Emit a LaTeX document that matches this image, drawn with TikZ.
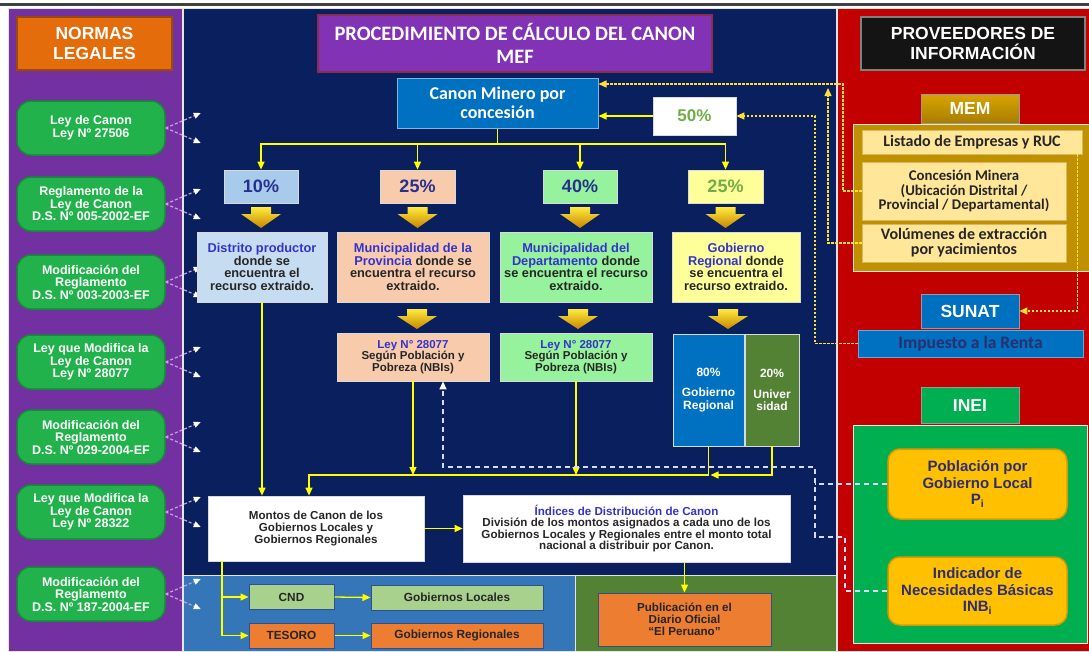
\documentclass[tikz,border=0pt]{standalone}
\usepackage{fontspec}
\setmainfont{Liberation Sans}
\newfontfamily\calib{Carlito}
\usetikzlibrary{arrows.meta}

\definecolor{purpP}{HTML}{7330A0}
\definecolor{navyP}{HTML}{0A1F5E}
\definecolor{redP}{HTML}{C30000}
\definecolor{blueP}{HTML}{3476B8}
\definecolor{greenP}{HTML}{548235}
\definecolor{goldP}{HTML}{BF9000}
\definecolor{ineiP}{HTML}{00B050}
\definecolor{orangeH}{HTML}{E46C0A}
\definecolor{orangeD}{HTML}{9C4A08}
\definecolor{legalG}{HTML}{22B24C}
\definecolor{legalD}{HTML}{168A38}
\definecolor{titleP}{HTML}{8232B4}
\definecolor{titleD}{HTML}{8A2E4E}
\definecolor{canonB}{HTML}{0070C0}
\definecolor{pctBlue}{HTML}{A9CBEB}
\definecolor{lblue}{HTML}{C6DCF0}
\definecolor{peach}{HTML}{F8CBAD}
\definecolor{lgreen}{HTML}{96F29C}
\definecolor{lyellow}{HTML}{FFFF99}
\definecolor{blueT}{HTML}{3333CC}
\definecolor{pctT}{HTML}{26308F}
\definecolor{darkT}{HTML}{262626}
\definecolor{greenT}{HTML}{70AD47}
\definecolor{cream}{HTML}{FFE699}
\definecolor{creamD}{HTML}{D9B860}
\definecolor{popY}{HTML}{FFC000}
\definecolor{popD}{HTML}{D99A00}
\definecolor{popT}{HTML}{2E2E6E}
\definecolor{tesoroO}{HTML}{ED7D31}
\definecolor{cndG}{HTML}{A9D18E}
\definecolor{smallD}{HTML}{2F4F8F}
\definecolor{ylw}{HTML}{FFFF00}
\definecolor{ydot}{HTML}{FFE033}
\definecolor{ldashC}{HTML}{C8A2E0}
\definecolor{blackB}{HTML}{141414}
\definecolor{memL}{HTML}{D9A300}
\definecolor{memD}{HTML}{A87E00}
\definecolor{chevT}{HTML}{FFEA3D}
\definecolor{chevB}{HTML}{C88600}

\tikzset{
  panel/.style={draw=white!80!gray, line width=0.8pt},
  headbox/.style={minimum width=155pt, minimum height=53pt, inner sep=2pt, line width=1.2pt,
    align=center, text=white, font=\fontsize{17.5}{19.5}\selectfont\bfseries},
  legalbox/.style={rounded corners=14pt, fill=legalG, draw=legalD, line width=1.5pt,
    minimum width=148pt, minimum height=54pt, inner sep=2pt, align=center, text=white,
    font=\fontsize{12.5}{12.5}\selectfont\bfseries},
  ldash/.style={draw=ldashC, dash pattern=on 3pt off 2pt, line width=1.2pt,
    -{Triangle[length=7pt,width=6pt,color=white]}},
  titlebox/.style={fill=titleP, draw=titleD, line width=1.5pt, minimum width=394pt,
    minimum height=57pt, inner sep=2pt, align=center, text=white,
    font=\calib\fontsize{20.5}{23}\selectfont\bfseries},
  pctbox/.style={minimum height=33pt, inner sep=2pt, draw=white!70!gray, line width=0.8pt,
    font=\fontsize{18}{20}\selectfont\bfseries},
  descbox/.style={minimum height=70pt, inner sep=2pt, align=center, draw=white!70!gray,
    line width=0.8pt, text=darkT, font=\fontsize{12.8}{12.8}\selectfont\bfseries},
  leybox/.style={minimum height=48pt, minimum width=152pt, inner sep=2pt, align=center,
    draw=white!70!gray, line width=0.8pt, text=darkT,
    font=\fontsize{11.5}{11.8}\selectfont\bfseries},
  splitbox/.style={minimum height=112pt, inner sep=2pt, align=center, text=white,
    draw=white!70!gray, line width=0.8pt, font=\fontsize{12}{12.5}\selectfont\bfseries},
  whitebox/.style={fill=white, draw=white!70!gray, line width=0.8pt, inner sep=2pt,
    align=center, text=darkT, font=\fontsize{11.6}{11.6}\selectfont\bfseries},
  smallbox/.style={minimum height=25pt, inner sep=2pt, draw=smallD, line width=1pt,
    text=darkT, font=\fontsize{11.8}{12}\selectfont\bfseries},
  subbox/.style={minimum width=98pt, minimum height=29pt, inner sep=2pt, text=white,
    draw=black!40, line width=0.8pt, font=\fontsize{17.5}{18}\selectfont\bfseries},
  creambox/.style={fill=cream, draw=creamD, line width=0.8pt, inner sep=2pt, align=center,
    text=darkT, font=\calib\fontsize{14.8}{14.5}\selectfont\bfseries},
  popbox/.style={rounded corners=12pt, fill=popY, draw=popD, line width=1.5pt,
    minimum width=179pt, minimum height=70pt, inner sep=2pt, align=center, text=popT,
    font=\fontsize{15}{16.7}\selectfont\bfseries},
  chev/.style={top color=chevT, bottom color=chevB},
  yarrow/.style={draw=ylw, line width=1.3pt, -{Triangle[length=8pt,width=7pt]}},
  ydots/.style={draw=ydot, line width=1.4pt, dash pattern=on 2.5pt off 1.5pt,
    -{Triangle[length=8pt,width=7pt]}},
  wdash/.style={draw=white!85!blue, line width=1.4pt, dash pattern=on 5pt off 4pt}
}

\begin{document}
\begin{tikzpicture}[x=1pt,y=-1pt]
\useasboundingbox (0,0) rectangle (1089,651);
\fill[white] (0,0) rectangle (1089,651);
\fill[black!75] (0,2.5) rectangle (1089,6);

\draw[panel, fill=purpP] (8,8) rectangle (182,651);
\draw[panel, fill=navyP] (183,8) rectangle (836,575);
\draw[panel, fill=blueP] (183,575) rectangle (575,651);
\draw[panel, fill=greenP] (575,575) rectangle (836,651);
\draw[panel, fill=redP] (837,8) rectangle (1089,651);
\draw[panel, fill=goldP] (853,124) rectangle (1089,271);
\draw[panel, fill=ineiP] (853,425) rectangle (1087,643);

\node[headbox, fill=orangeH, draw=orangeD] (normas) at (94.5,43.5) {NORMAS\\LEGALES};
\node[legalbox] (ley1) at (91,128) {Ley de Canon\\Ley Nº 27506};
\node[legalbox] (ley2) at (91,204) {Reglamento de la\\Ley de Canon\\D.S. Nº 005-2002-EF};
\node[legalbox] (ley3) at (91,282) {Modificación del\\Reglamento\\D.S. Nº 003-2003-EF};
\node[legalbox] (ley4) at (91,362) {Ley que Modifica la\\Ley de Canon\\Ley Nº 28077};
\node[legalbox] (ley5) at (91,437) {Modificación del\\Reglamento\\D.S. Nº 029-2004-EF};
\node[legalbox] (ley6) at (91,512) {Ley que Modifica la\\Ley de Canon\\Ley Nº 28322};
\node[legalbox] (ley7) at (91,594) {Modificación del\\Reglamento\\D.S. Nº 187-2004-EF};
\foreach \i in {1,...,7} {
  \draw[ldash] (ley\i.east) -- ++(35,-15);
  \draw[ldash] (ley\i.east) -- ++(35,15);
}

\node[titlebox] (titulo) at (515,43.5) {PROCEDIMIENTO DE CÁLCULO DEL CANON\\MEF};
\node[fill=canonB, draw=canonB!50!white, line width=1pt, minimum width=201pt, minimum height=50pt,
  inner sep=2pt, align=center, text=white, font=\calib\fontsize{18}{19}\selectfont\bfseries]
  (canon) at (497.5,103) {Canon Minero por\\concesión};
\node[pctbox, fill=white, text=greenT, minimum width=83pt, minimum height=38pt,
  font=\fontsize{17}{19}\selectfont\bfseries] (fifty) at (694.5,116) {50\%};

\node[pctbox, fill=pctBlue, text=pctT, minimum width=74pt] (p10) at (261,186.5) {10\%};
\node[pctbox, fill=peach, text=pctT, minimum width=75pt] (p25a) at (417.5,186.5) {25\%};
\node[pctbox, fill=lgreen, text=pctT, minimum width=74pt] (p40) at (580,186.5) {40\%};
\node[pctbox, fill=lyellow, text=greenT, minimum width=75pt] (p25b) at (725.5,186.5) {25\%};

\foreach \x in {261,417.5,580,725.5}
  \shade[chev] ({\x-10},207) -- ({\x+10},207) -- ({\x+10},214) -- ({\x+20},214)
    -- (\x,228) -- ({\x-20},214) -- ({\x-10},214) -- cycle;

\node[descbox, fill=lblue, minimum width=130pt] (d1) at (262,267)
  {{\color{blueT}Distrito productor}\\donde se\\encuentra el\\recurso extraido.};
\node[descbox, fill=peach, minimum width=152pt] (d2) at (413,267)
  {{\color{blueT}Municipalidad de la}\\{\color{blueT}Provincia} donde se\\encuentra el recurso\\extraido.};
\node[descbox, fill=lgreen, minimum width=152pt] (d3) at (576,267)
  {{\color{blueT}Municipalidad del}\\{\color{blueT}Departamento} donde\\se encuentra el recurso\\extraido.};
\node[descbox, fill=lyellow, minimum width=128pt] (d4) at (736,267)
  {{\color{blueT}Gobierno}\\{\color{blueT}Regional} donde\\se encuentra el\\recurso extraido.};

\foreach \x in {417,578,728}
  \shade[chev] ({\x-10},309) -- ({\x+10},309) -- ({\x+10},316) -- ({\x+20},316)
    -- (\x,329) -- ({\x-20},316) -- ({\x-10},316) -- cycle;

\node[leybox, fill=peach] (l2) at (413,357) {{\color{blueT}Ley N° 28077}\\Según Población y\\Pobreza (NBIs)};
\node[leybox, fill=lgreen] (l3) at (576,357) {{\color{blueT}Ley N° 28077}\\Según Población y\\Pobreza (NBIs)};
\node[splitbox, fill=canonB, minimum width=71pt] (gr80) at (708.5,390) {80\%\\[8pt]Gobierno\\Regional};
\node[splitbox, fill=greenP, minimum width=54pt] (un20) at (772,390) {20\%\\[8pt]Univer\\sidad};

\node[whitebox, minimum width=216pt, minimum height=65pt] (montos) at (316,528.5)
  {Montos de Canon de los\\Gobiernos Locales y\\Gobiernos Regionales};
\node[whitebox, minimum width=327pt, minimum height=67pt] (indices) at (626.5,528.5)
  {{\color{blueT}Índices de Distribución de Canon}\\División de los montos asignados a cada uno de los\\Gobiernos Locales y Regionales entre el monto total\\nacional a distribuir por Canon.};

\node[smallbox, fill=cndG, minimum width=85pt] (cnd) at (291.5,597) {CND};
\node[smallbox, fill=tesoroO, minimum width=85pt] (tesoro) at (291.5,635.5) {TESORO};
\node[smallbox, fill=cndG, minimum width=172pt] (glocal) at (457,597.5) {Gobiernos Locales};
\node[smallbox, fill=tesoroO, minimum width=172pt] (gregion) at (457,635.5) {Gobiernos Regionales};
\node[smallbox, fill=tesoroO, minimum width=173pt, minimum height=53pt, align=center,
  font=\fontsize{11.6}{12}\selectfont\bfseries] (publica) at (684.5,619.5)
  {Publicación en el\\Diario Oficial\\“El Peruano”};

\node[headbox, fill=blackB, draw=gray, minimum width=224pt] (proveed) at (973,43.5) {PROVEEDORES DE\\INFORMACIÓN};
\node[subbox, top color=memL, bottom color=memD] (mem) at (970,108.5) {MEM};
\node[creambox, minimum width=220pt, minimum height=24pt, font=\calib\fontsize{16}{16}\selectfont\bfseries]
  (listado) at (972,142) {Listado de Empresas y RUC};
\node[creambox, minimum width=204pt, minimum height=58pt] (concesion) at (964,191)
  {Concesión Minera\\(Ubicación Distrital /\\Provincial / Departamental)};
\node[creambox, minimum width=204pt, minimum height=38pt, font=\calib\fontsize{16}{15}\selectfont\bfseries]
  (volumenes) at (964,243) {Volúmenes de extracción\\por yacimientos};
\node[subbox, fill=canonB, minimum height=34pt] (sunat) at (970,311) {SUNAT};
\node[creambox, fill=canonB, draw=canonB!60!white, text=popT, minimum width=225pt, minimum height=27pt,
  font=\calib\fontsize{17.5}{17.5}\selectfont\bfseries] (impuesto) at (970.5,343.5) {Impuesto a la Renta};
\node[subbox, fill=ineiP, minimum height=36pt] (inei) at (970,405) {INEI};
\node[popbox] (poblacion) at (977.5,484) {Población por\\Gobierno Local\\P\textsubscript{i}};
\node[popbox, minimum height=68pt] (indicador) at (977.5,591) {Indicador de\\Necesidades Básicas\\INB\textsubscript{i}};

\coordinate (bus) at (497.5,144);
\coordinate (colL) at (309,475);
\coordinate (drop) at ([xshift=-94pt]montos.south);
\draw[draw=ylw, line width=1.3pt] (canon.south) -- (bus);
\foreach \n in {p10,p25a,p40,p25b}
  \draw[yarrow] (bus) -| (\n.north);
\draw[yarrow] (fifty.west) -- (fifty.west -| canon.east);
\draw[yarrow] (d1.south) -- (d1.south |- montos.north);
\draw[yarrow] (gr80.south) |- (colL) -- (colL |- montos.north);
\draw[yarrow] (un20.south) |- ([xshift=2pt]gr80.south |- colL);
\draw[yarrow] (l2.south) -- (l2.south |- colL);
\draw[yarrow] (l3.south) -- (l3.south |- colL);
\draw[yarrow] (montos.east) -- (indices.west);
\draw[yarrow] (publica.north |- indices.south) -- (publica.north);
\draw[yarrow] (drop) |- (tesoro.west);
\draw[yarrow] (drop |- cnd.west) -- (cnd.west);
\draw[yarrow] (cnd.east) -- (glocal.west);
\draw[yarrow] (tesoro.east) -- (gregion.west);

\draw[ydots] (concesion.west) -- (843,191) |- ([yshift=19pt]canon.east);
\draw[ydots] (impuesto.west) -- (815,343.5) |- (fifty.east);
\draw[ydots] (volumenes.west) -| (828,88);
\draw[ydots] ([xshift=-5pt]listado.south east) |- (sunat.east);

\draw[wdash, -{Triangle[length=8pt,width=7pt,color=white]}] (indicador.west) -| (845,537) -| (815,467) -| ([xshift=30pt]l2.south);
\draw[wdash] (poblacion.west) -- (815,484);
\end{tikzpicture}
\end{document}
